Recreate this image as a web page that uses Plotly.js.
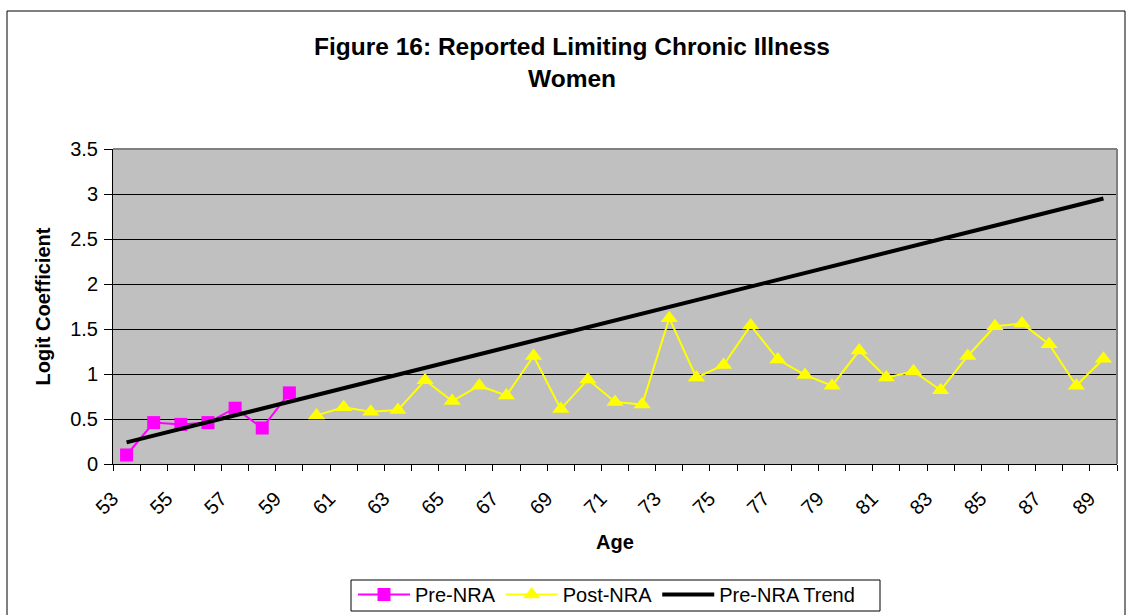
<!DOCTYPE html>
<html>
<head>
<meta charset="utf-8">
<script src="https://cdn.plot.ly/plotly-3.0.1.min.js"></script>
<style>html,body{margin:0;padding:0;background:#fff;}#chart{width:1127px;height:615px;}</style>
</head>
<body>
<div id="chart"></div>
<script>
var preAges = [53, 54, 55, 56, 57, 58, 59];
var preValues = [0.10, 0.46, 0.44, 0.46, 0.62, 0.40, 0.79];
var postAges = [60, 61, 62, 63, 64, 65, 66, 67, 68, 69, 70, 71, 72, 73, 74, 75, 76, 77, 78, 79, 80, 81, 82, 83, 84, 85, 86, 87, 88, 89];
var postValues = [0.54, 0.63, 0.58, 0.60, 0.93, 0.70, 0.87, 0.76, 1.20, 0.61, 0.94, 0.69, 0.66, 1.62, 0.96, 1.10, 1.54, 1.16, 0.99, 0.87, 1.26, 0.96, 1.03, 0.82, 1.20, 1.53, 1.56, 1.33, 0.87, 1.17];
var trendAges = [53, 89];
var trendValues = [0.24, 2.95];
var xTickVals = [53, 55, 57, 59, 61, 63, 65, 67, 69, 71, 73, 75, 77, 79, 81, 83, 85, 87, 89];
var xTickLabels = ['53', '55', '57', '59', '61', '63', '65', '67', '69', '71', '73', '75', '77', '79', '81', '83', '85', '87', '89'];

var FONT = 'Liberation Sans, Arial, sans-serif';
var W = 1127, H = 615, L = 113, R = 10, T = 149, B = 151;
var pw = W - L - R, ph = H - T - B;
function px(x) { return (x - L) / pw; }
function py(y) { return (H - B - y) / ph; }

var traces = [
  {x: preAges, y: preValues, name: 'Pre-NRA', type: 'scatter', mode: 'lines+markers',
   line: {color: '#FF00FF', width: 2}, marker: {symbol: 'square', size: 13, color: '#FF00FF'}},
  {x: postAges, y: postValues, name: 'Post-NRA', type: 'scatter', mode: 'lines+markers',
   line: {color: '#FFFF00', width: 2}, marker: {symbol: 'triangle-up', size: 15, color: '#FFFF00'}},
  {x: trendAges, y: trendValues, name: 'Pre-NRA Trend', type: 'scatter', mode: 'lines',
   line: {color: '#000000', width: 4}}
];

var layout = {
  width: W, height: H,
  margin: {l: L, r: R, t: T, b: B, autoexpand: false},
  paper_bgcolor: '#FFFFFF', plot_bgcolor: '#C0C0C0',
  font: {family: FONT, color: '#000', size: 20},
  title: {text: 'Figure 16: Reported Limiting Chronic Illness<br>Women', xref: 'container', x: 572 / W, xanchor: 'center',
          y: 1 - 55 / H, yanchor: 'middle', font: {family: FONT, size: 24.5, color: '#000', weight: 'bold'}},
  showlegend: true,
  legend: {orientation: 'h', x: px(353), xanchor: 'left', y: py(575), yanchor: 'top',
           borderwidth: 0, bgcolor: 'rgba(0,0,0,0)', font: {family: FONT, size: 20},
           itemwidth: 52, tracegroupgap: 0},
  xaxis: {range: [52.5, 89.5], tickmode: 'array', tickvals: xTickVals, ticktext: xTickLabels,
          tickangle: -45, ticks: '', showgrid: false, zeroline: false,
          showline: true, linecolor: '#000', linewidth: 1,
          tickfont: {family: FONT, size: 20}, ticklabelstandoff: 14, ticklabelshift: -14,
          minor: {tickmode: 'linear', tick0: 52.5, dtick: 1, ticks: 'outside', ticklen: 6, tickcolor: '#000', tickwidth: 1, showgrid: false},
          title: {text: 'Age', font: {family: FONT, size: 20, weight: 'bold'}, standoff: 17}},
  yaxis: {range: [0, 3.5], dtick: 0.5, tick0: 0, ticks: 'outside', ticklen: 8, tickcolor: '#000',
          showgrid: true, gridcolor: '#000', gridwidth: 1, zeroline: false,
          showline: true, linecolor: '#000', linewidth: 1,
          tickfont: {family: FONT, size: 20}, ticklabelstandoff: 2,
          title: {text: 'Logit Coefficient', font: {family: FONT, size: 20, weight: 'bold'}, standoff: 14}},
  shapes: [
    {type: 'rect', xref: 'paper', yref: 'paper', x0: px(7), x1: px(1125), y0: py(11), y1: py(640),
     line: {color: '#000', width: 1}, fillcolor: 'rgba(0,0,0,0)'},
    {type: 'rect', xref: 'paper', yref: 'paper', x0: px(351), x1: px(880), y0: py(580), y1: py(611),
     line: {color: '#000', width: 1}, fillcolor: 'rgba(0,0,0,0)'},
    {type: 'line', xref: 'paper', yref: 'paper', x0: 0, x1: 1, y0: 1, y1: 1, line: {color: '#808080', width: 2}},
    {type: 'line', xref: 'paper', yref: 'paper', x0: 1, x1: 1, y0: 0, y1: 1, line: {color: '#808080', width: 2}}
  ]
};

Plotly.newPlot('chart', traces, layout, {displayModeBar: false, staticPlot: true});
</script>
</body>
</html>
